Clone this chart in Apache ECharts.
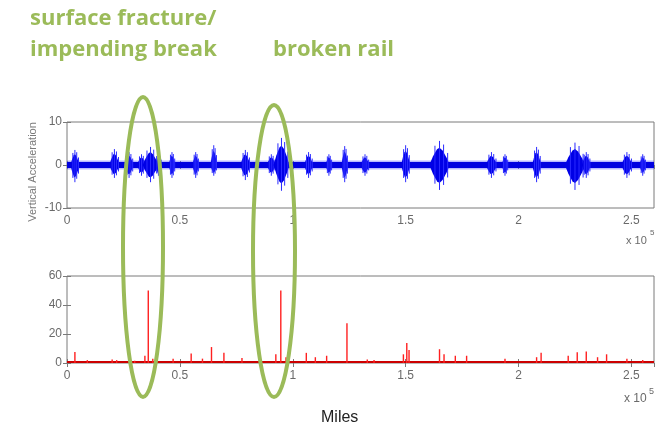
<!DOCTYPE html>
<html>
<head>
<meta charset="utf-8">
<script src="https://cdn.jsdelivr.net/npm/echarts@6/dist/echarts.min.js"></script>
<style>
  html, body { margin: 0; padding: 0; background: #fff; }
  #chart { width: 662px; height: 430px; }
</style>
</head>
<body>
<div id="chart"></div>
<script>
// distance along the track, in units of 1e5 miles
var xTicks = [0, 0.5, 1, 1.5, 2, 2.5]
var xMax = 2.6

// top plot: vibration bursts (vertical acceleration)
var burstMiles = [0.035, 0.21, 0.275, 0.33, 0.37, 0.405, 0.465, 0.57, 0.65, 0.79, 0.905, 0.95, 1.07, 1.16, 1.23, 1.32, 1.5, 1.65, 1.88, 1.94, 2.08, 2.25, 2.3, 2.48, 2.55]
var burstUp   = [3.5, 3.7, 3.0, 2.5, 4.2, 2.5, 3.0, 3.0, 4.6, 3.5, 2.5, 6.3, 3.0, 2.5, 4.4, 2.5, 4.6, 5.6, 3.0, 2.5, 4.2, 5.2, 3.0, 3.0, 2.5]
var burstDown = [4.0, 3.0, 3.0, 2.5, 4.0, 2.5, 3.0, 3.0, 2.5, 3.5, 2.5, 6.0, 3.0, 2.5, 4.0, 2.5, 4.0, 5.8, 3.0, 2.5, 4.0, 5.8, 3.0, 3.0, 2.5]
var burstSpan = [0.04, 0.045, 0.04, 0.04, 0.07, 0.03, 0.03, 0.03, 0.03, 0.045, 0.04, 0.07, 0.04, 0.03, 0.03, 0.04, 0.04, 0.09, 0.05, 0.03, 0.04, 0.09, 0.04, 0.05, 0.03]
var baseBand = 0.7

// bottom plot: detector output spikes
var spikeMiles = [0.035, 0.09, 0.2, 0.22, 0.3, 0.345, 0.36, 0.38, 0.47, 0.55, 0.6, 0.64, 0.695, 0.775, 0.925, 0.947, 0.97, 1.06, 1.1, 1.15, 1.24, 1.33, 1.36, 1.49, 1.505, 1.515, 1.65, 1.67, 1.72, 1.77, 1.94, 2.08, 2.1, 2.22, 2.26, 2.3, 2.35, 2.39, 2.48, 2.55]
var spikeValue = [7.6, 2, 2.5, 2, 1.5, 5, 50, 3, 3, 6.5, 3, 11, 7, 3.5, 6, 50, 4, 7, 4, 5, 27.5, 2.5, 2, 6, 13.8, 9, 9.5, 6, 5, 5, 3, 4, 7, 5, 7.5, 8, 4, 6, 3, 2]
var floorLevel = 1.3

var green = '#9bbb59'
var axisGray = '#7a7a7a'
var labelGray = '#6a6a6a'

var burstData = burstMiles.map(function (m, i) {
  return [m, burstUp[i], burstDown[i], burstSpan[i]]
})
var spikeData = spikeMiles.map(function (m, i) {
  return [m, spikeValue[i]]
})

function renderBurst(params, api) {
  var x = api.value(0), up = api.value(1), dn = api.value(2), span = api.value(3)
  var c = api.coord([x, 0])
  var pu = api.coord([x, up])
  var pd = api.coord([x, -dn])
  var hw = api.size([span, 0])[0] / 2
  var hu = c[1] - pu[1], hd = pd[1] - c[1]
  var pts = [
    [c[0] - hw, c[1]],
    [c[0] - hw * 0.65, c[1] - hu * 0.35],
    [c[0] - hw * 0.25, c[1] - hu * 0.65],
    [c[0], c[1] - hu * 0.72],
    [c[0] + hw * 0.3, c[1] - hu * 0.6],
    [c[0] + hw * 0.7, c[1] - hu * 0.3],
    [c[0] + hw, c[1]],
    [c[0] + hw * 0.7, c[1] + hd * 0.3],
    [c[0] + hw * 0.3, c[1] + hd * 0.6],
    [c[0], c[1] + hd * 0.72],
    [c[0] - hw * 0.25, c[1] + hd * 0.65],
    [c[0] - hw * 0.65, c[1] + hd * 0.35]
  ]
  var lineStyle = { stroke: '#2a2aff', lineWidth: 1 }
  return {
    type: 'group',
    children: [
      { type: 'polygon', shape: { points: pts }, style: { fill: '#0000e6' } },
      { type: 'line', shape: { x1: c[0], y1: pu[1], x2: c[0], y2: pd[1] }, style: lineStyle },
      { type: 'line', shape: { x1: c[0] - hw * 0.45, y1: c[1] - hu * 0.8, x2: c[0] - hw * 0.45, y2: c[1] + hd * 0.75 }, style: lineStyle },
      { type: 'line', shape: { x1: c[0] + hw * 0.4, y1: c[1] - hu * 0.85, x2: c[0] + hw * 0.4, y2: c[1] + hd * 0.8 }, style: lineStyle },
      { type: 'line', shape: { x1: c[0] + hw * 0.8, y1: c[1] - hu * 0.5, x2: c[0] + hw * 0.8, y2: c[1] + hd * 0.5 }, style: lineStyle }
    ]
  }
}

function renderBand(params, api) {
  var a = api.coord([api.value(0), api.value(2)])
  var b = api.coord([api.value(1), -api.value(2)])
  return {
    type: 'group',
    children: [
      { type: 'rect', shape: { x: a[0], y: a[1] - 1.5, width: b[0] - a[0], height: b[1] - a[1] + 3 }, style: { fill: '#4a4aff', opacity: 0.4 } },
      { type: 'rect', shape: { x: a[0], y: a[1], width: b[0] - a[0], height: b[1] - a[1] }, style: { fill: '#0000e0' } }
    ]
  }
}

function renderSpike(params, api) {
  var p0 = api.coord([api.value(0), 0])
  var p1 = api.coord([api.value(0), api.value(1)])
  return {
    type: 'line',
    shape: { x1: p0[0], y1: p0[1], x2: p1[0], y2: p1[1] },
    style: { stroke: '#ff2020', lineWidth: 1.4 }
  }
}

function renderFloor(params, api) {
  var a = api.coord([api.value(0), api.value(2)])
  var b = api.coord([api.value(1), 0])
  return {
    type: 'rect',
    shape: { x: a[0], y: a[1], width: b[0] - a[0], height: b[1] - a[1] + 1 },
    style: { fill: '#cc0000' }
  }
}

var tickLabel = { color: labelGray, fontSize: 12, fontFamily: 'Liberation Sans', margin: 7 }
function xAxisFor(gridIndex, pos, labels) {
  return {
    type: 'value', gridIndex: gridIndex, position: pos,
    min: 0, max: xMax, interval: 0.5,
    axisLine: { show: false },
    axisTick: { show: true, inside: true, length: 4, lineStyle: { color: axisGray } },
    axisLabel: labels ? Object.assign({ showMaxLabel: false, formatter: function (v) { return String(v) } }, tickLabel) : { show: false },
    splitLine: { show: false }
  }
}
function yAxisFor(gridIndex, pos, min, max, step, labels) {
  return {
    type: 'value', gridIndex: gridIndex, position: pos,
    min: min, max: max, interval: step,
    axisLine: { show: false },
    axisTick: { show: true, inside: true, length: 4, lineStyle: { color: axisGray } },
    axisLabel: labels ? Object.assign({}, tickLabel, { margin: 5 }) : { show: false },
    splitLine: { show: false }
  }
}

var chart = echarts.init(document.getElementById('chart'))
var option = {
  backgroundColor: '#fff',
  animation: false,
  grid: [
    { left: 67, right: 8, top: 122, height: 86, show: true, borderColor: axisGray, borderWidth: 1 },
    { left: 67, right: 8, top: 276, height: 87, show: true, borderColor: axisGray, borderWidth: 1 }
  ],
  xAxis: [
    xAxisFor(0, 'bottom', true),
    xAxisFor(0, 'top', false),
    xAxisFor(1, 'bottom', true),
    xAxisFor(1, 'top', false)
  ],
  yAxis: [
    yAxisFor(0, 'left', -10, 10, 10, true),
    yAxisFor(0, 'right', -10, 10, 10, false),
    yAxisFor(1, 'left', 0, 60, 20, true),
    yAxisFor(1, 'right', 0, 60, 20, false)
  ],
  series: [
    {
      type: 'custom', xAxisIndex: 0, yAxisIndex: 0, clip: true,
      renderItem: renderBand, data: [[0, xMax, baseBand]], z: 2
    },
    {
      type: 'custom', xAxisIndex: 0, yAxisIndex: 0, clip: true,
      renderItem: renderBurst, data: burstData, encode: { x: 0, y: [1] }, z: 3
    },
    {
      type: 'custom', xAxisIndex: 2, yAxisIndex: 2, clip: true,
      renderItem: renderFloor, data: [[0, xMax, floorLevel]], z: 2
    },
    {
      type: 'custom', xAxisIndex: 2, yAxisIndex: 2, clip: true,
      renderItem: renderSpike, data: spikeData, encode: { x: 0, y: 1 }, z: 3
    }
  ],
  graphic: [
    {
      type: 'text', x: 33, y: 172, rotation: Math.PI / 2, z: 50,
      style: { text: 'Vertical Acceleration', fill: '#7a7a7a', font: '11px "Liberation Sans"', align: 'center', verticalAlign: 'middle' }
    },
    {
      type: 'text', left: 30, top: 8, z: 100,
      style: { text: 'surface fracture/', fill: green, font: 'bold 22px "Open Sans"' }
    },
    {
      type: 'text', left: 30, top: 39, z: 100,
      style: { text: 'impending break', fill: green, font: 'bold 22px "Open Sans"' }
    },
    {
      type: 'text', left: 273, top: 39, z: 100,
      style: { text: 'broken rail', fill: green, font: 'bold 22px "Open Sans"' }
    },
    {
      type: 'ellipse', z: 100,
      shape: { cx: 143, cy: 247, rx: 20, ry: 150 },
      style: { fill: 'none', stroke: green, lineWidth: 4 }
    },
    {
      type: 'ellipse', z: 100,
      shape: { cx: 274, cy: 251, rx: 21, ry: 146 },
      style: { fill: 'none', stroke: green, lineWidth: 4 }
    },
    {
      type: 'text', left: 626, top: 235, z: 50,
      style: { text: 'x 10', fill: labelGray, font: '11px "Liberation Sans"' }
    },
    {
      type: 'text', left: 650, top: 229, z: 50,
      style: { text: '5', fill: labelGray, font: '8px "Liberation Sans"' }
    },
    {
      type: 'text', left: 624, top: 393, z: 50,
      style: { text: 'x 10', fill: labelGray, font: '12px "Liberation Sans"' }
    },
    {
      type: 'text', left: 649, top: 387, z: 50,
      style: { text: '5', fill: labelGray, font: '9px "Liberation Sans"' }
    },
    {
      type: 'text', left: 321, top: 410, z: 50,
      style: { text: 'Miles', fill: '#222', font: '16px "Liberation Sans"' }
    }
  ]
}
option && chart.setOption(option)
</script>
</body>
</html>
